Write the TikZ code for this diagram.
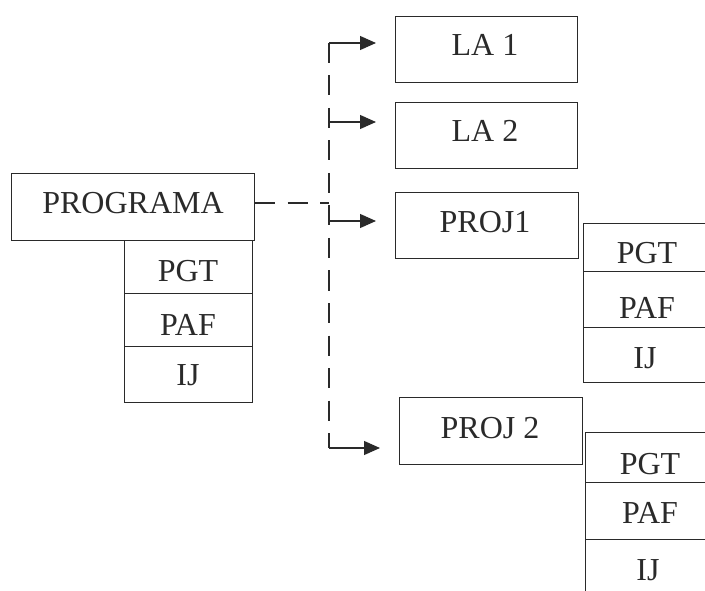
\documentclass[tikz,border=0pt]{standalone}
\usepackage{fontspec}
\setmainfont{Liberation Serif}
\usetikzlibrary{arrows.meta}
\definecolor{ink}{HTML}{2A2A2A}
\tikzset{
  boxnode/.style={draw=ink, line width=1.2pt, inner sep=0pt, anchor=north west, minimum width=#1},
  lbl/.style={anchor=base, inner sep=0pt, text=ink, font=\fontsize{32}{37}\selectfont},
  dsh/.style={draw=ink, line width=1.2pt, dash pattern=on 20pt off 12.5pt},
  arr/.style={draw=ink, line width=1.2pt, -{Triangle[length=16pt,width=14pt]}, shorten >=19pt}
}
\begin{document}
\begin{tikzpicture}[x=1pt,y=-1pt]
\clip (0,0) rectangle (705,591);
% main program box
\node[boxnode=243pt, minimum height=67pt] (prog) at (11,173) {};
\node[lbl] (tprog) at (133,214) {PROGRAMA};
% left sub boxes
\node[boxnode=128pt, minimum height=53pt] (lpgt) at (124,240) {};
\node[boxnode=128pt, minimum height=53pt] (lpaf) at (124,293) {};
\node[boxnode=128pt, minimum height=56pt] (lij) at (124,346) {};
\node[lbl] (tlpgt) at (188,282) {PGT};
\node[lbl] (tlpaf) at (188,335) {PAF};
\node[lbl] (tlij) at (188,385) {IJ};
% right boxes
\node[boxnode=182pt, minimum height=66pt] (la1) at (395,16) {};
\node[boxnode=182pt, minimum height=66pt] (la2) at (395,102) {};
\node[boxnode=183pt, minimum height=66pt] (proj1) at (395,192) {};
\node[boxnode=183pt, minimum height=67pt] (proj2) at (399,397) {};
\node[lbl] (tla1) at (485,56) {LA 1};
\node[lbl] (tla2) at (485,142) {LA 2};
\node[lbl] (tproj1) at (485,233) {PROJ1};
\node[lbl] (tproj2) at (490,438) {PROJ 2};
% PROJ1 sub boxes
\node[boxnode=129pt, minimum height=48pt] (apgt) at (583,223) {};
\node[boxnode=129pt, minimum height=56pt] (apaf) at (583,271) {};
\node[boxnode=129pt, minimum height=55pt] (aij) at (583,327) {};
\node[lbl] (tapgt) at (647,263) {PGT};
\node[lbl] (tapaf) at (647,318) {PAF};
\node[lbl] (taij) at (645,368) {IJ};
% PROJ2 sub boxes
\node[boxnode=129pt, minimum height=50pt] (bpgt) at (585,432) {};
\node[boxnode=129pt, minimum height=57pt] (bpaf) at (585,482) {};
\node[boxnode=129pt, minimum height=70pt] (bij) at (585,539) {};
\node[lbl] (tbpgt) at (650,474) {PGT};
\node[lbl] (tbpaf) at (650,523) {PAF};
\node[lbl] (tbij) at (648,580) {IJ};
% connectors
\coordinate (j) at (329,203);
\coordinate (top) at (329,43);
\coordinate (s2) at (329,122);
\coordinate (s3) at (329,221);
\coordinate (bot) at (329,448);
\draw[dsh] (prog.east |- j) -- (j);
\draw[dsh] (top) -- (bot);
\draw[arr] (top) -- (la1.west |- top);
\draw[arr] (s2) -- (la2.west |- s2);
\draw[arr] (s3) -- (proj1.west |- s3);
\draw[arr] (bot) -- (proj2.west |- bot);
\end{tikzpicture}
\end{document}
